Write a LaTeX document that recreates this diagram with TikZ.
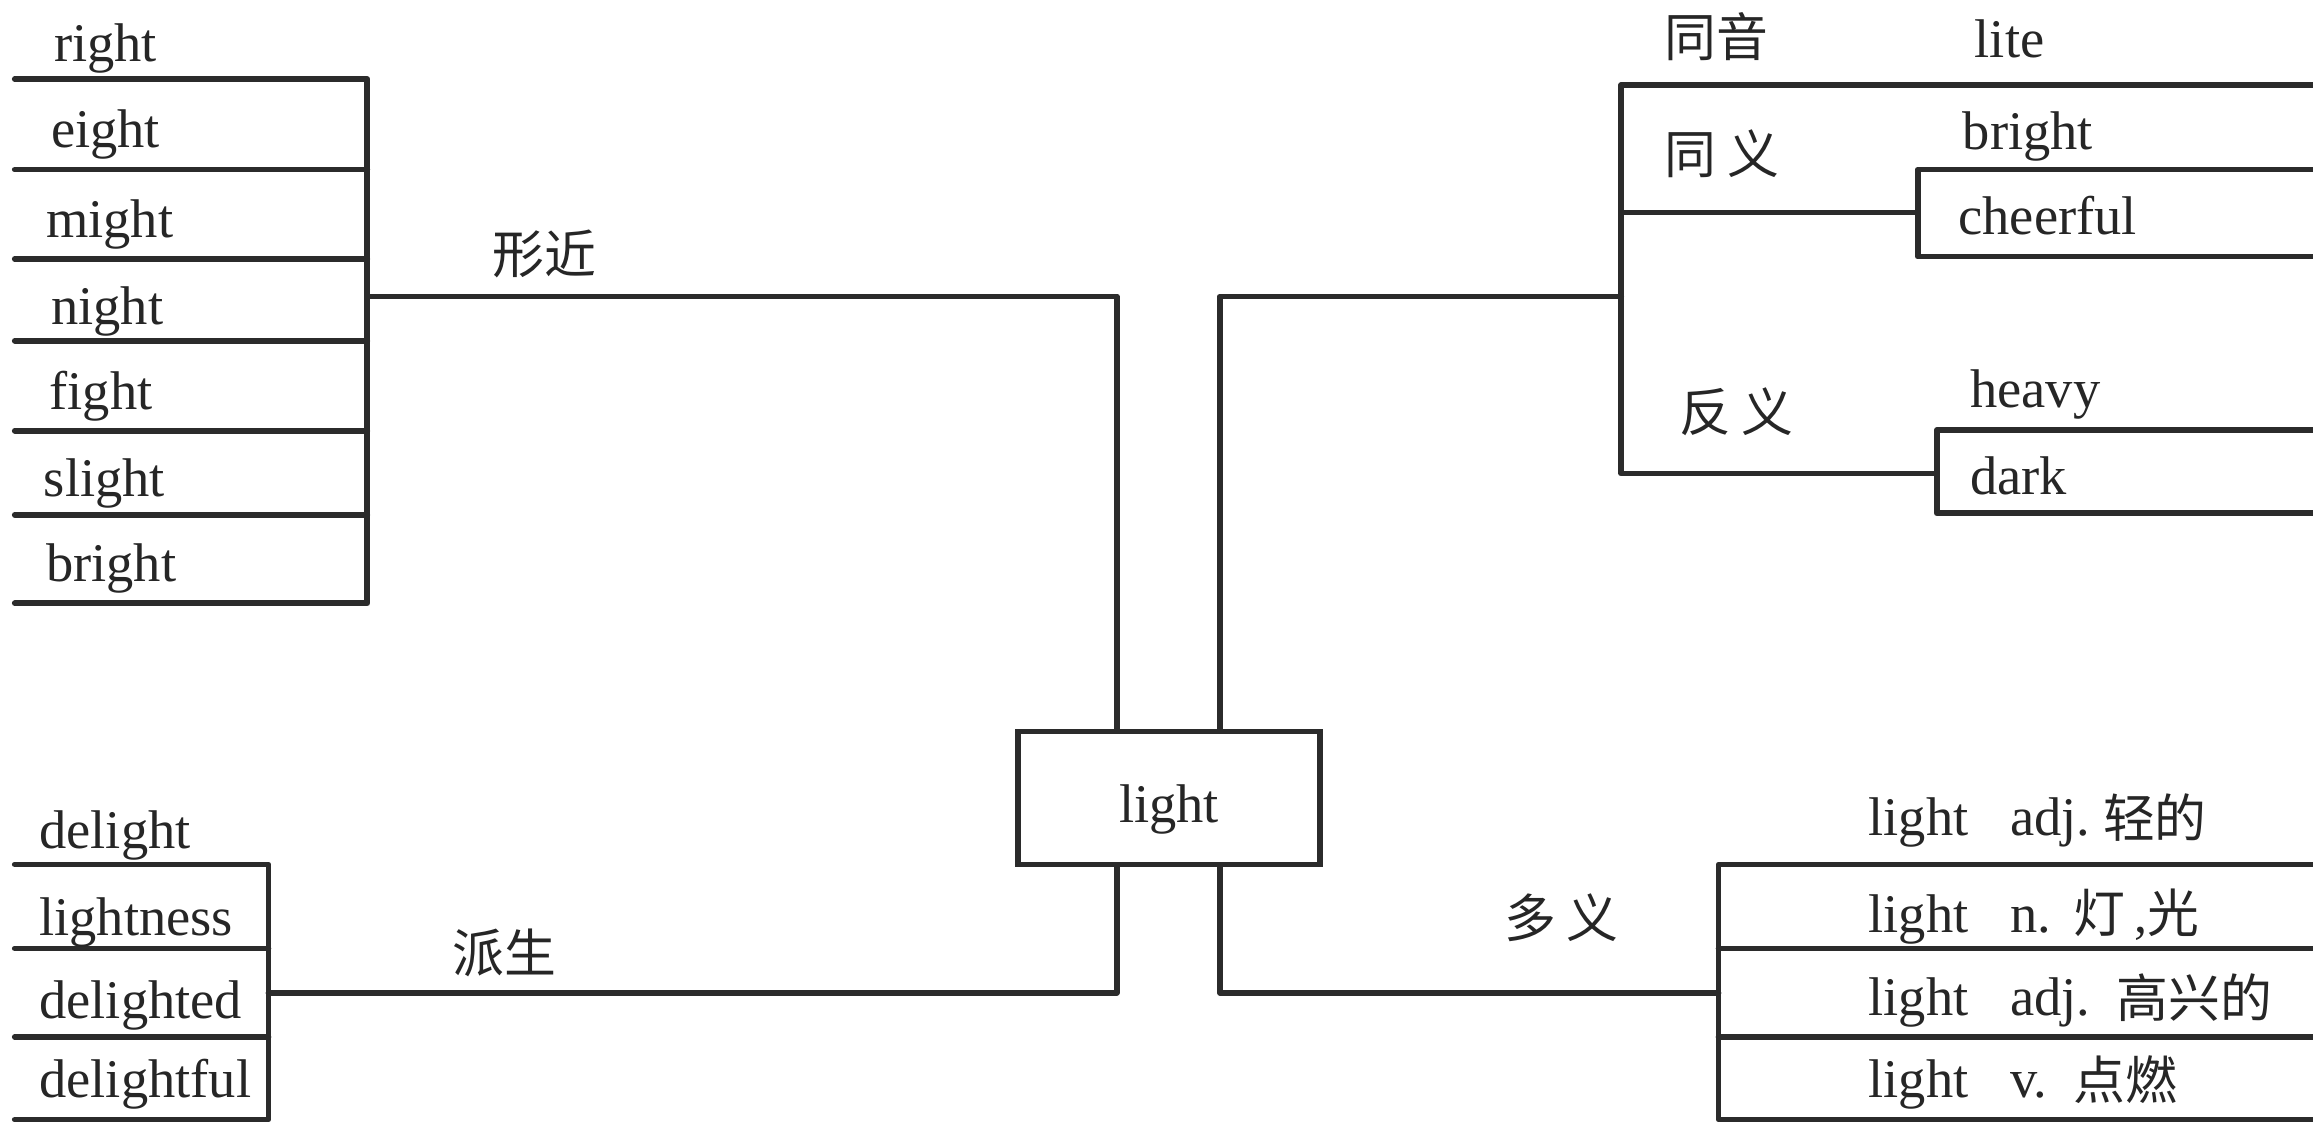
\documentclass[tikz,border=0pt]{standalone}
\usepackage{fontspec}
\setmainfont{Liberation Serif}
\newfontfamily\cjk{Noto Sans CJK SC}
\definecolor{ink}{HTML}{2B2B2B}
\definecolor{txt}{HTML}{262626}
\begin{document}
\begin{tikzpicture}[x=0.01cm,y=-0.01cm,
  rule/.style={draw=ink,line width=1.1pt,line cap=round,line join=round},
  word/.style={inner sep=0pt,anchor=west,text=txt,font=\fontsize{10.5}{12}\selectfont,text height=0.9em,text depth=0.2em},
  zh/.style={inner sep=0pt,anchor=west,text=txt,font=\cjk\fontsize{10}{12}\selectfont},
  centerbox/.style={draw=ink,line width=1.1pt,minimum width=2.05cm,minimum height=0.9cm,inner sep=0pt,text=txt,font=\fontsize{10.5}{12}\selectfont,text height=0.95em,text depth=0pt}]
\useasboundingbox (0,0) rectangle (1568,762);
\fill[white] (0,0) rectangle (1568,762);

% centre
\node[centerbox] (light) at (792.5,541) {light};

% junction coordinates
\coordinate (cL) at (757,201);
\coordinate (cR) at (827,201);
\coordinate (dL) at (757,673);
\coordinate (dR) at (827,673);
\coordinate (jTL) at (249,201);
\coordinate (jTR) at (1099,201);
\coordinate (jBL) at (182,673);
\coordinate (jBR) at (1165,673);

% main connectors
\draw[rule] (light.north -| cL) -- (cL) -- (jTL);
\draw[rule] (light.north -| cR) -- (cR) -- (jTR);
\draw[rule] (light.south -| dL) -- (dL) -- (jBL);
\draw[rule] (light.south -| dR) -- (dR) -- (jBR);

% top-left list (形近)
\draw[rule] (10,53.6) -- (249,53.6) -- (249,409) -- (10,409);
\foreach \yy in {115,175.5,231,292,349} \draw[rule] (10,\yy) -- (249,\yy);
\node[word] (w1) at (36,29.5) {right};
\node[word] (w2) at (34,88) {eight};
\node[word] (w3) at (30.5,149) {might};
\node[word] (w4) at (34,208) {night};
\node[word] (w5) at (33,265) {fight};
\node[word] (w6) at (29,324) {slight};
\node[word] (w7) at (30.5,382) {bright};
\node[zh] (xingjin) at (333,172) {形近};

% bottom-left list (派生)
\draw[rule] (10,586) -- (182,586) -- (182,759) -- (10,759);
\foreach \yy in {643,703} \draw[rule] (10,\yy) -- (182,\yy);
\node[word] (d1) at (26,563) {delight};
\node[word] (d2) at (26,622) {lightness};
\node[word] (d3) at (26,678) {delighted};
\node[word] (d4) at (26,732) {delightful};
\node[zh] (paisheng) at (306,646) {派生};

% top-right (同音 / 同义 / 反义)
\coordinate (jSyn) at (1099,144);
\coordinate (jAnt) at (1099,321);
\draw[rule] (1568,57.6) -- (1099,57.6) -- (jTR) -- (jAnt) -- (1313,321);
\draw[rule] (jSyn) -- (1300,144);
\draw[rule] (1568,115) -- (1300,115) -- (1300,174) -- (1568,174);
\draw[rule] (1568,291.5) -- (1313,291.5) -- (1313,348) -- (1568,348);
\node[zh] (tongyin) at (1128,25) {同音};
\node[zh] (tongyi) at (1128,104) {同\hspace{0.2em}义};
\node[zh] (fanyi) at (1138,279) {反\hspace{0.2em}义};
\node[word] (lite) at (1338,27) {lite};
\node[word] (bright2) at (1330,89) {bright};
\node[word] (cheerful) at (1327,147) {cheerful};
\node[word] (heavy) at (1335,264) {heavy};
\node[word] (dark) at (1335,323) {dark};

% bottom-right (多义)
\draw[rule] (1568,586) -- (1165,586) -- (1165,759) -- (1568,759);
\foreach \yy in {643,703} \draw[rule] (1165,\yy) -- (1568,\yy);
\node[zh] (duoyi) at (1019,622) {多\hspace{0.2em}义};
\node[word] (m1) at (1266,554) {light};
\node[word] (p1) at (1362,554) {adj.};
\node[zh]   (c1) at (1425,554) {轻的};
\node[word] (m2) at (1266,620) {light};
\node[word] (p2) at (1362,620) {n.};
\node[zh]   (c2) at (1405,620) {灯\,{\rmfamily,}光};
\node[word] (m3) at (1266,676) {light};
\node[word] (p3) at (1362,676) {adj.};
\node[zh]   (c3) at (1434,676) {高兴的};
\node[word] (m4) at (1266,732) {light};
\node[word] (p4) at (1362,732) {v.};
\node[zh]   (c4) at (1405,732) {点燃};
\end{tikzpicture}
\end{document}
